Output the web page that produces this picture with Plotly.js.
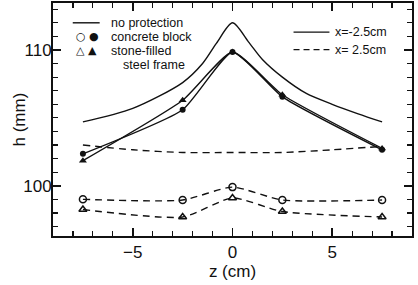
<!DOCTYPE html>
<html>
<head>
<meta charset="utf-8">
<script src="https://cdn.plot.ly/plotly-3.0.1.min.js"></script>
<style>
html,body{margin:0;padding:0;background:#fff;}
#chart{width:418px;height:285px;}
</style>
</head>
<body>
<div id="chart"></div>
<script>
// z positions (cm)
const zMarked = [-7.5, -2.5, 0, 2.5, 7.5];
const zNoProtSolid = [-7.5, -5, -2.5, -1.5, -0.8, 0, 0.8, 1.5, 2.5, 3.7, 5, 6.3, 7.5];
const zNoProtDashed = [-7.5, -5, -2.5, 0, 2.5, 5, 7.5];

// h values (mm)
const hNoProtSolid = [104.7, 105.7, 107.6, 109.0, 110.5, 112.0, 110.6, 109.3, 108.0, 106.8, 106.0, 105.3, 104.7];
const hNoProtDashed = [103.0, 102.65, 102.45, 102.45, 102.45, 102.65, 102.9];
const hConcreteSolid = [102.35, 105.6, 109.85, 106.55, 102.65];
const hStoneSolid = [101.85, 106.3, 109.85, 106.7, 102.75];
const hConcreteDashed = [99.0, 98.95, 99.9, 98.95, 98.95];
const hStoneDashed = [98.25, 97.7, 99.1, 98.1, 97.7];

// tick labels
const xTickVals = [-5, 0, 5];
const xTickText = ['\u22125', '0', '5'];
const yTickVals = [100, 110];
const yTickText = ['100', '110'];

const black = '#111';
const dash = '7px,5px';

const traces = [
  {x: zNoProtSolid, y: hNoProtSolid, mode: 'lines',
   line: {color: black, width: 1.4, shape: 'spline', smoothing: 0.8}},
  {x: zNoProtDashed, y: hNoProtDashed, mode: 'lines',
   line: {color: black, width: 1.4, dash: dash, shape: 'spline', smoothing: 0.8}},
  {x: zMarked, y: hConcreteSolid, mode: 'lines+markers',
   line: {color: black, width: 1.4, shape: 'spline', smoothing: 0.5},
   marker: {symbol: 'circle', size: 6, color: black}},
  {x: zMarked, y: hStoneSolid, mode: 'lines+markers',
   line: {color: black, width: 1.4, shape: 'spline', smoothing: 0.5},
   marker: {symbol: 'triangle-up', size: 7, color: black}},
  {x: zMarked, y: hConcreteDashed, mode: 'lines+markers',
   line: {color: black, width: 1.4, dash: dash, shape: 'spline', smoothing: 0.6},
   marker: {symbol: 'circle-open', size: 7, color: black, line: {width: 1.5, color: black}}},
  {x: zMarked, y: hStoneDashed, mode: 'lines+markers',
   line: {color: black, width: 1.4, dash: dash, shape: 'spline', smoothing: 0.6},
   marker: {symbol: 'triangle-up-open', size: 7, color: black, line: {width: 1.5, color: black}}}
];

const fam = 'Liberation Sans, Arial, sans-serif';
const font = {family: fam, color: black};
const legFont = {family: fam, size: 12.5, color: black};
const symFont = {family: 'DejaVu Sans, sans-serif', size: 11, color: black};

const annotations = [
  {xref: 'paper', yref: 'paper', x: 0.155, y: 0.915, text: 'no protection', showarrow: false, xanchor: 'left', yanchor: 'middle', font: legFont},
  {xref: 'paper', yref: 'paper', x: 0.058, y: 0.855, text: '\u25CB \u25CF', showarrow: false, xanchor: 'left', yanchor: 'middle', font: symFont},
  {xref: 'paper', yref: 'paper', x: 0.155, y: 0.855, text: 'concrete block', showarrow: false, xanchor: 'left', yanchor: 'middle', font: legFont},
  {xref: 'paper', yref: 'paper', x: 0.058, y: 0.795, text: '\u25B3 \u25B2', showarrow: false, xanchor: 'left', yanchor: 'middle', font: symFont},
  {xref: 'paper', yref: 'paper', x: 0.155, y: 0.795, text: 'stone-filled', showarrow: false, xanchor: 'left', yanchor: 'middle', font: legFont},
  {xref: 'paper', yref: 'paper', x: 0.19, y: 0.735, text: 'steel frame', showarrow: false, xanchor: 'left', yanchor: 'middle', font: legFont},
  {xref: 'paper', yref: 'paper', x: 0.78, y: 0.875, text: 'x=-2.5cm', showarrow: false, xanchor: 'left', yanchor: 'middle', font: legFont},
  {xref: 'paper', yref: 'paper', x: 0.78, y: 0.80, text: 'x= 2.5cm', showarrow: false, xanchor: 'left', yanchor: 'middle', font: legFont},
  {xref: 'paper', yref: 'paper', x: -0.092, y: 0.5, text: 'h (mm)', textangle: -90, showarrow: false, xanchor: 'center', yanchor: 'middle', font: {family: fam, size: 17, color: black}}
];

const shapes = [
  {type: 'line', xref: 'paper', yref: 'paper', x0: 0.055, x1: 0.13, y0: 0.915, y1: 0.915, line: {color: black, width: 1.4}},
  {type: 'line', xref: 'paper', yref: 'paper', x0: 0.67, x1: 0.77, y0: 0.875, y1: 0.875, line: {color: black, width: 1.4}},
  {type: 'line', xref: 'paper', yref: 'paper', x0: 0.67, x1: 0.77, y0: 0.80, y1: 0.80, line: {color: black, width: 1.4, dash: '6px,4px'}}
];

const layout = {
  width: 418, height: 285,
  margin: {l: 53, r: 6, t: 3, b: 49},
  paper_bgcolor: '#fff', plot_bgcolor: '#fff',
  showlegend: false,
  font: font,
  xaxis: {
    range: [-9, 9],
    tickvals: xTickVals, ticktext: xTickText,
    ticks: 'inside', ticklen: 8, tickwidth: 1.5, tickcolor: black,
    minor: {dtick: 1, tick0: 0, ticks: 'inside', ticklen: 5, tickwidth: 1.2, tickcolor: black, showgrid: false},
    mirror: 'allticks', showline: true, linecolor: black, linewidth: 2,
    showgrid: false, zeroline: false,
    tickfont: {size: 17, color: black, family: fam},
    title: {text: 'z (cm)', font: {size: 17, color: black, family: fam}, standoff: 2}
  },
  yaxis: {
    range: [96.3, 113.46],
    tickvals: yTickVals, ticktext: yTickText,
    ticks: 'inside', ticklen: 8, tickwidth: 1.5, tickcolor: black,
    ticklabelstandoff: -4,
    minor: {dtick: 1, tick0: 0, ticks: 'inside', ticklen: 5, tickwidth: 1.2, tickcolor: black, showgrid: false},
    mirror: 'allticks', showline: true, linecolor: black, linewidth: 2,
    showgrid: false, zeroline: false,
    tickfont: {size: 17, color: black, family: fam}
  },
  annotations: annotations,
  shapes: shapes
};

Plotly.newPlot('chart', traces, layout, {staticPlot: true, displayModeBar: false});
</script>
</body>
</html>
